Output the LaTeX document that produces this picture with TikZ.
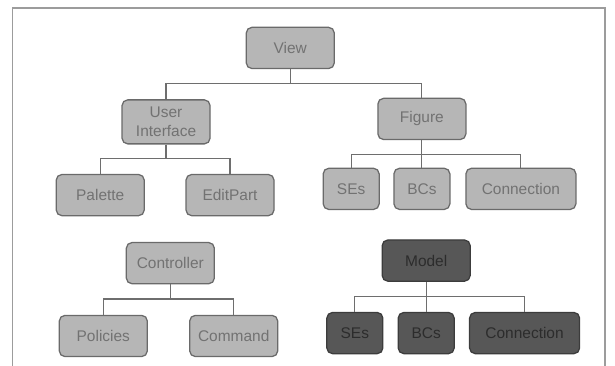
\documentclass[tikz,border=0pt]{standalone}
\usepackage{fontspec}
\setmainfont{Liberation Sans}

\definecolor{partfill}{HTML}{B6B6B6}
\definecolor{partline}{HTML}{6A6A6A}
\definecolor{parttext}{HTML}{727272}
\definecolor{darkfill}{HTML}{575757}
\definecolor{darkline}{HTML}{3C3C3C}
\definecolor{darktext}{HTML}{2C2C2C}
\definecolor{treeline}{HTML}{6E6E6E}
\definecolor{framecol}{HTML}{9C9C9C}

\begin{document}
\begin{tikzpicture}[
    part/.style={draw=partline, fill=partfill, text=parttext, rounded corners=4pt,
      line width=0.9pt, minimum width=2.2cm, minimum height=1.03cm, inner sep=1pt,
      align=center, font=\fontsize{11}{13.5}\selectfont},
    small part/.style={part, minimum width=1.4cm},
    wide part/.style={part, minimum width=2.75cm},
    dark part/.style={draw=darkline, fill=darkfill, text=darktext},
    tree/.style={draw=treeline, line width=0.8pt},
  ]

    \coordinate (width)  at (15.375cm,0cm);
    \coordinate (height) at (0cm,9.15cm);

    \useasboundingbox (0,0) rectangle (width |- height);

    % rows, counted from the bottom
    \path (0,0) -- (height)
    coordinate[pos=0.978] (frame top)
    coordinate[pos=0.869] (View row)
    coordinate[pos=0.773] (View bar)
    coordinate[pos=0.675] (Figure row)
    coordinate[pos=0.667] (UI row)
    coordinate[pos=0.579] (Figure bar)
    coordinate[pos=0.568] (UI bar)
    coordinate[pos=0.484] (Figure part row)
    coordinate[pos=0.467] (UI part row)
    coordinate[pos=0.288] (Model row)
    coordinate[pos=0.281] (Controller row)
    coordinate[pos=0.191] (Model bar)
    coordinate[pos=0.183] (Controller bar)
    coordinate[pos=0.090] (Model part row)
    coordinate[pos=0.082] (Controller part row);

    % columns
    \path (0,0) -- (width)
    coordinate[pos=0.020] (frame left)
    coordinate[pos=0.984] (frame right)
    coordinate[pos=0.163] (Palette col)
    coordinate[pos=0.168] (Policies col)
    coordinate[pos=0.270] (UI col)
    coordinate[pos=0.277] (Controller col)
    coordinate[pos=0.374] (EditPart col)
    coordinate[pos=0.380] (Command col)
    coordinate[pos=0.472] (View col)
    coordinate[pos=0.571] (SEs col)
    coordinate[pos=0.577] (Model SEs col)
    coordinate[pos=0.686] (Figure col)
    coordinate[pos=0.693] (Model col)
    coordinate[pos=0.847] (Connection col)
    coordinate[pos=0.853] (Model Connection col);

    \draw[draw=framecol, line width=1.1pt]
    (frame left) -- (frame left |- frame top) -- (frame right |- frame top) -- (frame right);

    % view tree
    \node[part] (View) at (View col |- View row) {View};
    \node[part, minimum height=1.1cm] (UI) at (UI col |- UI row) {User\\Interface};
    \node[part] (Figure) at (Figure col |- Figure row) {Figure};
    \node[part] (Palette) at (Palette col |- UI part row) {Palette};
    \node[part] (EditPart) at (EditPart col |- UI part row) {EditPart};
    \node[small part] (SEs) at (SEs col |- Figure part row) {SEs};
    \node[small part] (BCs) at (Figure col |- Figure part row) {BCs};
    \node[wide part] (Connection) at (Connection col |- Figure part row) {Connection};

    \foreach \child in {UI,Figure}
    \draw[tree] (View.south) -- (View.south |- View bar) -| (\child.north);
    \foreach \child in {Palette,EditPart}
    \draw[tree] (UI.south) -- (UI.south |- UI bar) -| (\child.north);
    \foreach \child in {SEs,BCs,Connection}
    \draw[tree] (Figure.south) -- (Figure.south |- Figure bar) -| (\child.north);

    % controller tree
    \node[part] (Controller) at (Controller col |- Controller row) {Controller};
    \node[part] (Policies) at (Policies col |- Controller part row) {Policies};
    \node[part] (Command) at (Command col |- Controller part row) {Command};

    \foreach \child in {Policies,Command}
    \draw[tree] (Controller.south) -- (Controller.south |- Controller bar) -| (\child.north);

    % model tree
    \node[part, dark part] (Model) at (Model col |- Model row) {Model};
    \node[small part, dark part] (Model SEs) at (Model SEs col |- Model part row) {SEs};
    \node[small part, dark part] (Model BCs) at (Model col |- Model part row) {BCs};
    \node[wide part, dark part] (Model Connection) at (Model Connection col |- Model part row) {Connection};

    \foreach \child in {Model SEs,Model BCs,Model Connection}
    \draw[tree] (Model.south) -- (Model.south |- Model bar) -| (\child.north);
  \end{tikzpicture}
\end{document}
